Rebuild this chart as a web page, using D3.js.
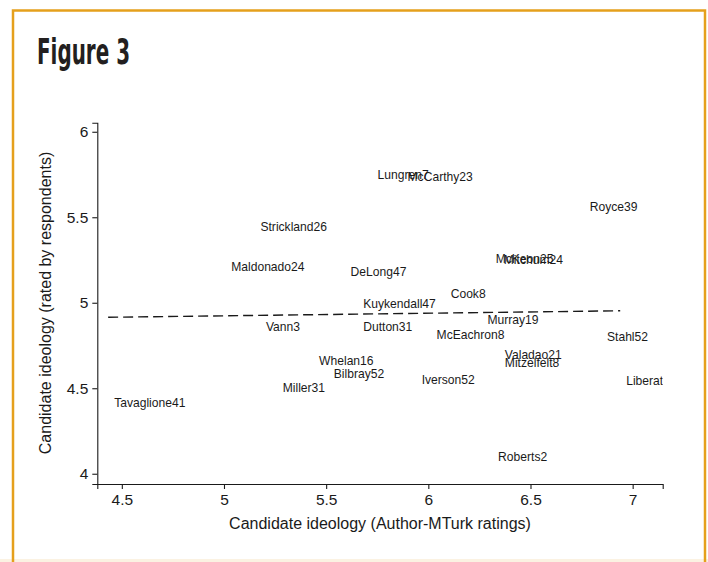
<!DOCTYPE html>
<html>
<head>
<meta charset="utf-8">
<script src="https://cdn.jsdelivr.net/npm/d3@7"></script>
<style>
  body { margin: 0; background: #fff; }
  text { font-family: "Liberation Sans", Arial, sans-serif; fill: #1a1a1a; }
</style>
</head>
<body>
<div id="root"></div>
<script>
// Size of the page
const width = 708;
const height = 562;

// Candidates (label), author/MTurk rating (x), respondent rating (y)
const names = [
  "Lungren7", "McCarthy23", "Royce39", "Strickland26", "Maldonado24", "DeLong47",
  "McKeon25", "Mitchum24", "Cook8", "Kuykendall47", "Vann3", "Dutton31",
  "Murray19", "McEachron8", "Stahl52", "Whelan16", "Bilbray52", "Valadao21",
  "Mitzelfelt8", "Miller31", "Iverson52", "Liberatore40", "Tavaglione41", "Roberts2"
];
const authorRating = [
  5.722, 5.869, 6.761, 5.149, 5.006, 5.590,
  6.300, 6.340, 6.080, 5.652, 5.176, 5.652,
  6.260, 6.011, 6.845, 5.436, 5.508, 6.345,
  6.345, 5.258, 5.938, 6.939, 4.433, 6.312
];
const respondentRating = [
  5.747, 5.737, 5.560, 5.444, 5.211, 5.180,
  5.256, 5.253, 5.051, 4.992, 4.860, 4.860,
  4.899, 4.811, 4.801, 4.659, 4.587, 4.698,
  4.649, 4.505, 4.548, 4.542, 4.418, 4.099
];

// Linear fit, end points
const fitX = [4.433, 6.939];
const fitY = [4.915, 4.953];

// Axis ticks
const xTicks = [4.5, 5, 5.5, 6, 6.5, 7];
const yTicks = [4, 4.5, 5, 5.5, 6];

const svg = d3
  .select("#root")
  .append("svg")
  .attr("width", width)
  .attr("height", height);

// Frame
svg
  .append("rect")
  .attr("x", 0)
  .attr("y", 559)
  .attr("width", width)
  .attr("height", 3)
  .attr("fill", "#fbf2e2");

svg
  .append("rect")
  .attr("x", 13)
  .attr("y", 10.5)
  .attr("width", 692)
  .attr("height", 600)
  .attr("fill", "none")
  .attr("stroke", "#e5a01c")
  .attr("stroke-width", 2.5);

svg
  .append("text")
  .attr("x", 37)
  .attr("y", 64)
  .attr("textLength", 93)
  .attr("lengthAdjust", "spacingAndGlyphs")
  .style("font-family", "'Liberation Sans Narrow', 'DejaVu Sans Condensed', sans-serif")
  .style("font-weight", "bold")
  .style("font-size", "35px")
  .style("fill", "#231f20")
  .text("Figure 3");

// Scales
const xScale = d3.scaleLinear().domain([4.38, 7.147]).range([97.3, 662.7]);
const yScale = d3.scaleLinear().domain([3.94, 6.053]).range([484, 122.7]);

// Axes
const tickFormat = d3.format("~g");
const xAxis = d3.axisBottom(xScale).tickValues(xTicks).tickFormat(tickFormat)
  .tickSizeOuter(0).tickSize(5).tickPadding(5);
const yAxis = d3.axisLeft(yScale).tickValues(yTicks).tickFormat(tickFormat)
  .tickSizeOuter(0).tickSize(5).tickPadding(4);

const gx = svg
  .append("g")
  .attr("class", "x-axis")
  .attr("transform", "translate(0," + 484 + ")")
  .call(xAxis);

const gy = svg
  .append("g")
  .attr("class", "y-axis")
  .attr("transform", "translate(" + 97.3 + ",0)")
  .call(yAxis);

[gx, gy].forEach(g => {
  g.selectAll("path, line").attr("stroke", "#1a1a1a").attr("stroke-width", 1.1);
  g.selectAll("text")
    .style("font-family", "'Liberation Sans', Arial, sans-serif")
    .style("font-size", "15.5px")
    .attr("fill", "#1a1a1a");
});

// Axis titles
svg
  .append("text")
  .attr("x", 380)
  .attr("y", 529)
  .attr("text-anchor", "middle")
  .style("font-size", "16px")
  .text("Candidate ideology (Author-MTurk ratings)");

svg
  .append("text")
  .attr("transform", "translate(51,303) rotate(-90)")
  .attr("text-anchor", "middle")
  .style("font-size", "16px")
  .text("Candidate ideology (rated by respondents)");

// Plot region clip
svg
  .append("clipPath")
  .attr("id", "plot-clip")
  .append("rect")
  .attr("x", 97.3)
  .attr("y", 118)
  .attr("width", 662.7 - 97.3)
  .attr("height", 366);

const plot = svg.append("g").attr("clip-path", "url(#plot-clip)");

// Fitted line
const fitData = fitX.map((d, i) => ({ x: d, y: fitY[i] }));
const line = d3
  .line()
  .x(d => {
    return xScale(d.x);
  })
  .y(d => {
    return yScale(d.y);
  });

plot
  .append("path")
  .datum(fitData)
  .attr("d", line)
  .attr("fill", "none")
  .attr("stroke", "#1a1a1a")
  .attr("stroke-width", 1.4)
  .attr("stroke-dasharray", "10,5");

// Marker labels (overlaps are as in the original)
const points = names.map((n, i) => ({ name: n, x: authorRating[i], y: respondentRating[i] }));

plot
  .append("g")
  .attr("class", "labels")
  .selectAll("text")
  .data(points)
  .enter()
  .append("text")
  .attr("x", d => {
    return xScale(d.x) + 6;
  })
  .attr("y", d => {
    return yScale(d.y);
  })
  .attr("dy", "0.35em")
  .style("font-size", "12.1px")
  .text(d => d.name);
</script>
</body>
</html>
